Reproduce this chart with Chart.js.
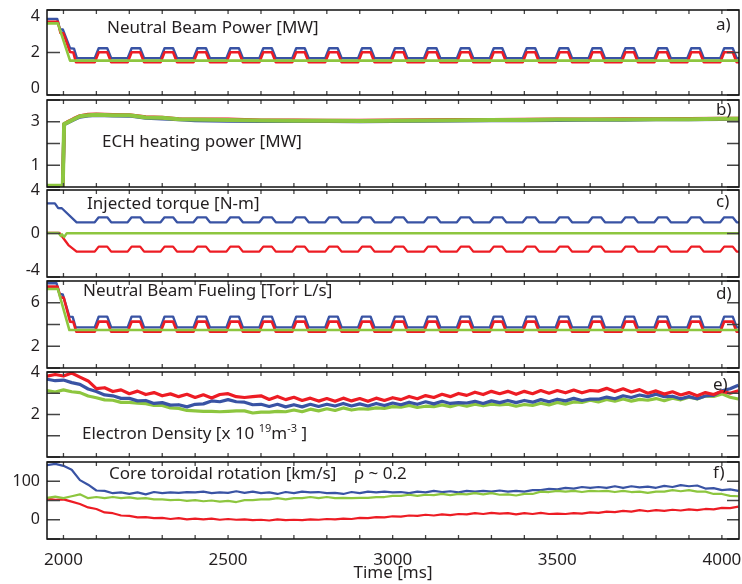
<!DOCTYPE html>
<html><head><meta charset="utf-8">
<script src="https://cdn.jsdelivr.net/npm/chart.js@4/dist/chart.umd.min.js"></script>
<style>
html,body{margin:0;padding:0;background:#fff;}
#wrap{position:relative;width:742px;height:584px;overflow:hidden;font-family:"Noto Sans",sans-serif;color:#231f20;}
canvas{position:absolute;left:0;}
.t{position:absolute;font-size:17px;line-height:17px;white-space:nowrap;}
.t sup{font-size:11px;line-height:0;vertical-align:7px;}
</style></head><body><div id="wrap">
<canvas id="cA" width="742" height="105" style="top:0px"></canvas>
<canvas id="cB" width="742" height="107" style="top:90px"></canvas>
<canvas id="cC" width="742" height="107" style="top:180px"></canvas>
<canvas id="cD" width="742" height="107" style="top:271px"></canvas>
<canvas id="cE" width="742" height="105" style="top:362px"></canvas>
<canvas id="cF" width="742" height="132" style="top:452px"></canvas>

<div class="t" style="left:107px;top:18px">Neutral Beam Power [MW]</div>
<div class="t" style="left:102px;top:132px">ECH heating power [MW]</div>
<div class="t" style="left:87px;top:194px">Injected torque [N-m]</div>
<div class="t" style="left:83px;top:281px">Neutral Beam Fueling [Torr L/s]</div>
<div class="t" style="left:82px;top:424px">Electron Density [x 10 <sup>19</sup>m<sup>-3</sup> ]</div>
<div class="t" style="left:109px;top:464px">Core toroidal rotation [km/s]</div>
<div class="t" style="left:354px;top:464px">ρ ~ 0.2</div>
<div class="t" style="left:716px;top:15px">a)</div>
<div class="t" style="left:716px;top:100px">b)</div>
<div class="t" style="left:716px;top:192px">c)</div>
<div class="t" style="left:716px;top:284px">d)</div>
<div class="t" style="left:713px;top:375px">e)</div>
<div class="t" style="left:713px;top:463px">f)</div>
</div>
<script>
// ---------- shared axis data ----------
const xTicks = [2000,2100,2200,2300,2400,2500,2600,2700,2800,2900,3000,3100,3200,3300,3400,3500,3600,3700,3800,3900,4000];
const xLabels = [2000,2500,3000,3500,4000];

// ---------- pulse breakpoint times (NBI modulation) ----------
const tPulse = [
2095,2107,2133,2145, 2195,2207,2233,2245, 2295,2307,2333,2345, 2395,2407,2433,2445,
2495,2507,2533,2545, 2595,2607,2633,2645, 2695,2707,2733,2745, 2795,2807,2833,2845,
2895,2907,2933,2945, 2995,3007,3033,3045, 3095,3107,3133,3145, 3195,3207,3233,3245,
3295,3307,3333,3345, 3395,3407,3433,3445, 3495,3507,3533,3545, 3595,3607,3633,3645,
3695,3707,3733,3745, 3795,3807,3833,3845, 3895,3907,3933,3945, 3995,4007,4033,4045,
4055];

// ---------- panel a: Neutral Beam Power ----------
const aTicks = [0,1,2,3,4];
const aLabels = ['0','','2','','4'];
const aBlueT0 = [1950,1981,1989,1998,2020,2032,2041];
const aBlueV0 = [3.58,3.58,3.10,3.08,2.20,2.18,1.73];
const aBlueP = [
1.73,2.2,2.2,1.73, 1.73,2.2,2.2,1.73, 1.73,2.2,2.2,1.73, 1.73,2.2,2.2,1.73,
1.73,2.2,2.2,1.73, 1.73,2.2,2.2,1.73, 1.73,2.2,2.2,1.73, 1.73,2.2,2.2,1.73,
1.73,2.2,2.2,1.73, 1.73,2.2,2.2,1.73, 1.73,2.2,2.2,1.73, 1.73,2.2,2.2,1.73,
1.73,2.2,2.2,1.73, 1.73,2.2,2.2,1.73, 1.73,2.2,2.2,1.73, 1.73,2.2,2.2,1.73,
1.73,2.2,2.2,1.73, 1.73,2.2,2.2,1.73, 1.73,2.2,2.2,1.73, 1.73,2.2,2.2,1.73,
1.73];
const aRedT0 = [1950,1983,1991,2000,2020,2030,2038];
const aRedV0 = [3.45,3.45,2.92,2.90,2.02,2.00,1.54];
const aRedP = [
1.54,2.01,2.01,1.54, 1.54,2.01,2.01,1.54, 1.54,2.01,2.01,1.54, 1.54,2.01,2.01,1.54,
1.54,2.01,2.01,1.54, 1.54,2.01,2.01,1.54, 1.54,2.01,2.01,1.54, 1.54,2.01,2.01,1.54,
1.54,2.01,2.01,1.54, 1.54,2.01,2.01,1.54, 1.54,2.01,2.01,1.54, 1.54,2.01,2.01,1.54,
1.54,2.01,2.01,1.54, 1.54,2.01,2.01,1.54, 1.54,2.01,2.01,1.54, 1.54,2.01,2.01,1.54,
1.54,2.01,2.01,1.54, 1.54,2.01,2.01,1.54, 1.54,2.01,2.01,1.54, 1.54,2.01,2.01,1.54,
1.54];
const aGreenT = [1950,1983,2020,4055];
const aGreenV = [3.37,3.37,1.62,1.62];

// ---------- panel b: ECH power ----------
const bTicks = [0,1,2,3,4];
const bLabels = ['','1','','3',''];
const bT = [1950,1998,2002,2010,2030,2050,2075,2100,2150,2200,2250,2300,2350,2400,2500,2600,2700,2800,2900,3000,3100,3200,3300,3400,3500,3600,3700,3800,3900,4000,4055];
const bGreen = [0.06,0.06,2.90,2.95,3.10,3.25,3.30,3.32,3.30,3.30,3.20,3.18,3.12,3.10,3.08,3.06,3.05,3.05,3.04,3.05,3.06,3.07,3.08,3.08,3.10,3.10,3.10,3.12,3.12,3.14,3.14];
const bRed   = [0.06,0.06,2.90,2.97,3.13,3.27,3.33,3.34,3.32,3.31,3.22,3.19,3.13,3.11,3.11,3.07,3.07,3.06,3.06,3.07,3.08,3.09,3.09,3.10,3.11,3.11,3.13,3.13,3.14,3.15,3.15];
const bBlue  = [0.06,0.06,2.88,2.93,3.08,3.22,3.28,3.30,3.28,3.27,3.17,3.14,3.10,3.06,3.04,3.02,3.02,3.02,3.01,3.02,3.04,3.05,3.06,3.06,3.07,3.08,3.08,3.10,3.10,3.12,3.12];

// ---------- panel c: injected torque ----------
const cTicks = [-4,-2,0,2,4];
const cLabels = ['-4','','0','','4'];
const cBlueT0 = [1950,1974,1984,1995,2040];
const cBlueV0 = [2.77,2.77,2.34,2.32,1.03];
const cBlueP = [
1.03,1.49,1.49,1.03, 1.03,1.49,1.49,1.03, 1.03,1.49,1.49,1.03, 1.03,1.49,1.49,1.03,
1.03,1.49,1.49,1.03, 1.03,1.49,1.49,1.03, 1.03,1.49,1.49,1.03, 1.03,1.49,1.49,1.03,
1.03,1.49,1.49,1.03, 1.03,1.49,1.49,1.03, 1.03,1.49,1.49,1.03, 1.03,1.49,1.49,1.03,
1.03,1.49,1.49,1.03, 1.03,1.49,1.49,1.03, 1.03,1.49,1.49,1.03, 1.03,1.49,1.49,1.03,
1.03,1.49,1.49,1.03, 1.03,1.49,1.49,1.03, 1.03,1.49,1.49,1.03, 1.03,1.49,1.49,1.03,
1.03];
const cRedT0 = [1950,1988,2015,2040];
const cRedV0 = [0.05,0.05,-1.06,-1.67];
const cRedP = [
-1.67,-1.21,-1.21,-1.67, -1.67,-1.21,-1.21,-1.67, -1.67,-1.21,-1.21,-1.67, -1.67,-1.21,-1.21,-1.67,
-1.67,-1.21,-1.21,-1.67, -1.67,-1.21,-1.21,-1.67, -1.67,-1.21,-1.21,-1.67, -1.67,-1.21,-1.21,-1.67,
-1.67,-1.21,-1.21,-1.67, -1.67,-1.21,-1.21,-1.67, -1.67,-1.21,-1.21,-1.67, -1.67,-1.21,-1.21,-1.67,
-1.67,-1.21,-1.21,-1.67, -1.67,-1.21,-1.21,-1.67, -1.67,-1.21,-1.21,-1.67, -1.67,-1.21,-1.21,-1.67,
-1.67,-1.21,-1.21,-1.67, -1.67,-1.21,-1.21,-1.67, -1.67,-1.21,-1.21,-1.67, -1.67,-1.21,-1.21,-1.67,
-1.67];
const cGreenT = [1950,1985,1992,1996,2002,2010,4055];
const cGreenV = [0.04,0.04,-0.22,-0.08,-0.32,0.02,0.02];

// ---------- panel d: NB fueling ----------
const dTicks = [0,2,4,6,8];
const dLabels = ['','2','','6',''];
const dBlueT0 = [1950,1979,1988,1998,2018,2028,2037];
const dBlueV0 = [7.79,7.79,6.80,6.76,4.72,4.70,3.74];
const dBlueP = [
3.74,4.72,4.72,3.74, 3.74,4.72,4.72,3.74, 3.74,4.72,4.72,3.74, 3.74,4.72,4.72,3.74,
3.74,4.72,4.72,3.74, 3.74,4.72,4.72,3.74, 3.74,4.72,4.72,3.74, 3.74,4.72,4.72,3.74,
3.74,4.72,4.72,3.74, 3.74,4.72,4.72,3.74, 3.74,4.72,4.72,3.74, 3.74,4.72,4.72,3.74,
3.74,4.72,4.72,3.74, 3.74,4.72,4.72,3.74, 3.74,4.72,4.72,3.74, 3.74,4.72,4.72,3.74,
3.74,4.72,4.72,3.74, 3.74,4.72,4.72,3.74, 3.74,4.72,4.72,3.74, 3.74,4.72,4.72,3.74,
3.74];
const dRedT0 = [1950,1982,1991,2001,2020,2030,2039];
const dRedV0 = [7.48,7.48,6.50,6.45,4.26,4.24,3.34];
const dRedP = [
3.34,4.26,4.26,3.34, 3.34,4.26,4.26,3.34, 3.34,4.26,4.26,3.34, 3.34,4.26,4.26,3.34,
3.34,4.26,4.26,3.34, 3.34,4.26,4.26,3.34, 3.34,4.26,4.26,3.34, 3.34,4.26,4.26,3.34,
3.34,4.26,4.26,3.34, 3.34,4.26,4.26,3.34, 3.34,4.26,4.26,3.34, 3.34,4.26,4.26,3.34,
3.34,4.26,4.26,3.34, 3.34,4.26,4.26,3.34, 3.34,4.26,4.26,3.34, 3.34,4.26,4.26,3.34,
3.34,4.26,4.26,3.34, 3.34,4.26,4.26,3.34, 3.34,4.26,4.26,3.34, 3.34,4.26,4.26,3.34,
3.34];
const dGreenT = [1950,1983,2018,4055];
const dGreenV = [7.26,7.26,3.49,3.49];

// ---------- noisy signals time base ----------
const tN = [
1950,1975,2000,2025,2050,2075,2100,2125,2150,2175,
2200,2225,2250,2275,2300,2325,2350,2375,2400,2425,
2450,2475,2500,2525,2550,2575,2600,2625,2650,2675,
2700,2725,2750,2775,2800,2825,2850,2875,2900,2925,
2950,2975,3000,3025,3050,3075,3100,3125,3150,3175,
3200,3225,3250,3275,3300,3325,3350,3375,3400,3425,
3450,3475,3500,3525,3550,3575,3600,3625,3650,3675,
3700,3725,3750,3775,3800,3825,3850,3875,3900,3925,
3950,3975,4000,4025,4050];

// ---------- panel e: electron density ----------
const eTicks = [0,1,2,3,4];
const eLabels = ['','','2','','4'];
const eRed = [
3.80,3.88,3.81,3.95,3.76,3.58,3.22,3.26,3.08,3.16,
2.98,3.10,2.94,3.03,2.88,2.97,2.84,2.95,2.80,2.93,
2.78,2.94,2.98,2.84,2.80,2.84,2.88,2.71,2.85,2.70,
2.81,2.66,2.77,2.63,2.75,2.62,2.77,2.64,2.75,2.62,
2.77,2.66,2.79,2.70,2.85,2.74,2.89,2.80,2.95,2.84,
2.99,2.90,3.05,2.94,3.09,2.98,3.09,2.95,3.09,2.98,
3.13,3.00,3.13,3.02,3.15,3.02,3.13,3.10,3.23,3.08,
3.21,3.06,3.17,3.00,3.11,2.96,3.07,2.92,3.03,2.88,
3.03,2.94,3.09,3.00,3.12];
const eBlue = [
3.66,3.59,3.62,3.50,3.42,3.20,3.08,2.92,2.88,2.76,
2.76,2.64,2.66,2.52,2.56,2.44,2.46,2.36,2.48,2.50,
2.64,2.60,2.70,2.60,2.58,2.46,2.48,2.38,2.48,2.36,
2.46,2.36,2.48,2.38,2.48,2.40,2.52,2.40,2.50,2.40,
2.52,2.42,2.54,2.46,2.58,2.48,2.60,2.50,2.62,2.52,
2.56,2.54,2.62,2.52,2.64,2.56,2.66,2.56,2.66,2.58,
2.70,2.60,2.72,2.64,2.76,2.66,2.72,2.72,2.82,2.74,
2.88,2.80,2.92,2.84,2.96,2.84,2.86,2.74,2.84,2.74,
2.87,2.90,3.11,3.21,3.38];
const eGreen = [
3.12,3.06,3.16,3.07,3.03,2.87,2.79,2.69,2.67,2.57,
2.57,2.53,2.51,2.43,2.43,2.31,2.29,2.19,2.17,2.15,
2.15,2.13,2.15,2.17,2.17,2.07,2.11,2.11,2.15,2.13,
2.21,2.13,2.25,2.17,2.27,2.19,2.31,2.21,2.27,2.25,
2.31,2.29,2.37,2.35,2.43,2.33,2.39,2.37,2.45,2.37,
2.47,2.39,2.49,2.41,2.49,2.45,2.49,2.39,2.47,2.43,
2.53,2.45,2.57,2.49,2.59,2.57,2.67,2.59,2.71,2.63,
2.73,2.63,2.71,2.67,2.75,2.65,2.77,2.69,2.81,2.73,
2.87,2.85,2.97,2.81,2.73];

// ---------- panel f: core toroidal rotation ----------
const fTicks = [-50,0,50,100,150];
const fLabels = ['','0','','100',''];
const fBlue = [
142,145,140,130,103,91,76,75,69,71,
67,71,66,72,69,71,70,72,71,73,
69,71,70,74,70,73,69,71,67,72,
69,73,71,72,69,70,67,72,69,73,
71,73,71,72,69,73,71,75,72,74,
71,75,73,75,73,76,73,75,73,77,
77,80,79,83,81,85,83,85,83,87,
83,87,84,86,83,88,85,90,87,89,
81,82,77,79,75];
const fGreen = [
57,60,56,61,66,56,59,56,59,56,
58,55,56,53,53,51,52,49,51,48,
50,47,49,46,51,51,53,53,56,53,
56,56,59,56,59,56,57,56,57,57,
59,59,62,62,65,62,65,64,67,64,
67,66,69,66,69,65,66,63,67,67,
73,72,75,73,75,72,75,74,75,72,
75,72,73,70,73,73,77,74,77,73,
73,67,67,62,61];
const fRed = [
55,52,53,47,41,32,28,19,17,11,
10,6,7,4,5,2,4,1,3,1,
3,0,2,0,1,-1,0,-2,1,-1,
0,-1,1,0,2,1,3,2,5,4,
7,6,9,8,11,10,13,11,14,12,
15,14,17,15,18,16,17,14,17,15,
18,15,16,15,17,16,19,18,21,20,
23,21,25,22,25,23,26,24,27,25,
28,27,31,30,34];

// ---------- drawing ----------
const BLUE = '#3953a4', RED = '#ed1c24', GREEN = '#8dc63f', INK = '#231f20';
Chart.defaults.font.family = "'Noto Sans', sans-serif";
Chart.defaults.color = INK;

function pts(xs, ys) { return xs.map((x, i) => ({x: x, y: ys[i]})); }
function ds(data, color, w) {
  return {data: data, borderColor: color, borderWidth: w, pointRadius: 0, tension: 0, fill: false, borderJoinStyle: 'round'};
}

const framePlugin = {
  id: 'frame',
  afterDraw(chart) {
    const {ctx, chartArea: a} = chart;
    const x = chart.scales.x, y = chart.scales.y;
    ctx.save();
    ctx.strokeStyle = '#444';
    ctx.lineWidth = 1.3;
    ctx.beginPath();
    y.ticks.forEach(t => {
      const py = y.getPixelForValue(t.value);
      ctx.moveTo(a.left, py); ctx.lineTo(a.left + 13, py);
      ctx.moveTo(a.right, py); ctx.lineTo(a.right - 12, py);
    });
    xTicks.forEach(v => {
      const px = x.getPixelForValue(v);
      ctx.moveTo(px, a.top); ctx.lineTo(px, a.top + 4);
      ctx.moveTo(px, a.bottom); ctx.lineTo(px, a.bottom - 4);
    });
    ctx.stroke();
    ctx.strokeStyle = '#111';
    ctx.lineWidth = 1.5;
    ctx.strokeRect(a.left, a.top, a.right - a.left, a.bottom - a.top);
    ctx.restore();
  }
};

function makePanel(id, p) {
  const bottom = !!p.bottom;
  const xScale = {
    type: 'linear', min: 1950, max: 4052, display: bottom,
    afterBuildTicks: s => { s.ticks = xTicks.map(v => ({value: v})); },
    grid: {display: false, drawTicks: false}, border: {display: false},
    ticks: {autoSkip: false, maxRotation: 0, minRotation: 0, padding: 11, font: {size: 17}, color: INK,
            callback: v => xLabels.includes(v) ? String(v) : ''},
    title: {display: bottom, text: 'Time [ms]', font: {size: 17}, color: INK, padding: {top: 0, bottom: 1}}
  };
  if (bottom) xScale.afterFit = s => { s.height = 45; s.paddingLeft = 0; s.paddingRight = 0; };
  new Chart(document.getElementById(id), {
    type: 'line',
    data: {datasets: p.datasets},
    options: {
      responsive: false, animation: false, events: [],
      layout: {padding: {top: 10, bottom: bottom ? 0 : 10, left: 0, right: 3}},
      plugins: {legend: {display: false}, tooltip: {enabled: false}},
      scales: {
        x: xScale,
        y: {
          min: p.min, max: p.max,
          afterFit: s => { s.width = 47; s.paddingTop = 0; s.paddingBottom = 0; },
          afterBuildTicks: s => { s.ticks = p.ticks.map(v => ({value: v})); },
          grid: {display: false, drawTicks: false}, border: {display: false},
          ticks: {
            padding: 7, font: {size: 16, lineHeight: 0.8}, color: INK,
            callback: function (v) {
              const i = p.ticks.indexOf(v);
              const lab = i >= 0 ? p.labels[i] : '';
              if (lab && v === p.max && p.shiftTop) return ['', lab];
              if (lab && v === p.min && p.shiftBottom) return [lab, ''];
              return lab;
            }
          }
        }
      }
    },
    plugins: [framePlugin]
  });
}

makePanel('cA', {min: 0, max: 4, ticks: aTicks, labels: aLabels, shiftTop: true, shiftBottom: true, datasets: [
  ds(pts(aGreenT, aGreenV), GREEN, 2.6),
  ds(pts(aRedT0.concat(tPulse), aRedV0.concat(aRedP)), RED, 2.6),
  ds(pts(aBlueT0.concat(tPulse), aBlueV0.concat(aBlueP)), BLUE, 2.4)
]});
makePanel('cB', {min: 0, max: 4, ticks: bTicks, labels: bLabels, datasets: [
  ds(pts(bT, bGreen), GREEN, 4),
  ds(pts(bT, bRed), RED, 3.5),
  ds(pts(bT, bBlue), BLUE, 3.5)
]});
makePanel('cC', {min: -4, max: 4, ticks: cTicks, labels: cLabels, shiftBottom: true, datasets: [
  ds(pts(cGreenT, cGreenV), GREEN, 2.4),
  ds(pts(cRedT0.concat(tPulse), cRedV0.concat(cRedP)), RED, 2.3),
  ds(pts(cBlueT0.concat(tPulse), cBlueV0.concat(cBlueP)), BLUE, 2.3)
]});
makePanel('cD', {min: 0, max: 8, ticks: dTicks, labels: dLabels, datasets: [
  ds(pts(dGreenT, dGreenV), GREEN, 2.6),
  ds(pts(dRedT0.concat(tPulse), dRedV0.concat(dRedP)), RED, 2.6),
  ds(pts(dBlueT0.concat(tPulse), dBlueV0.concat(dBlueP)), BLUE, 2.4)
]});
makePanel('cE', {min: 0, max: 4, ticks: eTicks, labels: eLabels, datasets: [
  ds(pts(tN, eRed), RED, 3.2),
  ds(pts(tN, eBlue), BLUE, 3.2),
  ds(pts(tN, eGreen), GREEN, 3.2)
]});
makePanel('cF', {min: -50, max: 150, ticks: fTicks, labels: fLabels, bottom: true, datasets: [
  ds(pts(tN, fGreen), GREEN, 2.2),
  ds(pts(tN, fBlue), BLUE, 2.2),
  ds(pts(tN, fRed), RED, 2.2)
]});
</script>
</body></html>
